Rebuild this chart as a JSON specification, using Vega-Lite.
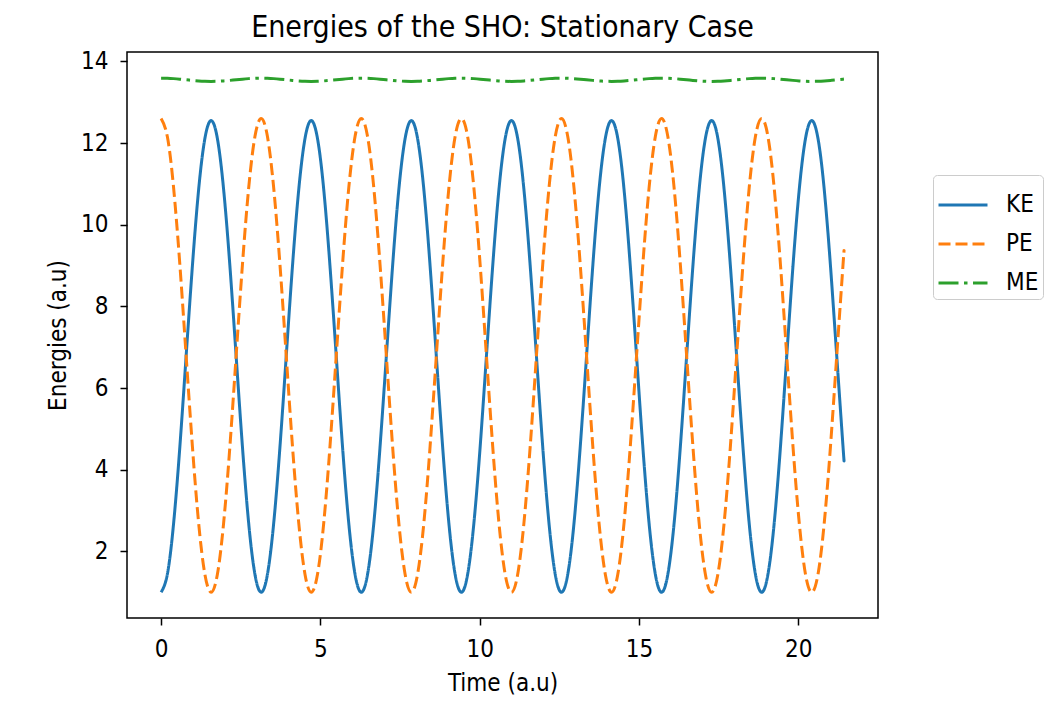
{
"$schema": "https://vega.github.io/schema/vega-lite/v6.json",
"width": 751, "height": 566,
"autosize": {"type": "none"},
"padding": {"left": 127, "top": 52, "right": 181, "bottom": 100},
"background": "white",
"title": {"text": "Energies of the SHO: Stationary Case", "fontSize": 30, "font": "DejaVu Sans Condensed", "fontWeight": "normal", "color": "black", "anchor": "middle", "offset": 6},
"data": {"values": [
{"t":0,"KE":1,"PE":12.6,"ME":13.59},
{"t":0.196,"KE":1.44,"PE":12.159,"ME":13.587},
{"t":0.393,"KE":2.691,"PE":10.901,"ME":13.578},
{"t":0.589,"KE":4.565,"PE":9.02,"ME":13.565},
{"t":0.785,"KE":6.775,"PE":6.8,"ME":13.55},
{"t":0.982,"KE":8.985,"PE":4.58,"ME":13.535},
{"t":1.178,"KE":10.859,"PE":2.699,"ME":13.522},
{"t":1.374,"KE":12.11,"PE":1.441,"ME":13.513},
{"t":1.571,"KE":12.55,"PE":1,"ME":13.51},
{"t":1.767,"KE":12.11,"PE":1.441,"ME":13.513},
{"t":1.963,"KE":10.859,"PE":2.699,"ME":13.522},
{"t":2.16,"KE":8.985,"PE":4.58,"ME":13.535},
{"t":2.356,"KE":6.775,"PE":6.8,"ME":13.55},
{"t":2.553,"KE":4.565,"PE":9.02,"ME":13.565},
{"t":2.749,"KE":2.691,"PE":10.901,"ME":13.578},
{"t":2.945,"KE":1.44,"PE":12.159,"ME":13.587},
{"t":3.142,"KE":1,"PE":12.6,"ME":13.59},
{"t":3.338,"KE":1.44,"PE":12.159,"ME":13.587},
{"t":3.534,"KE":2.691,"PE":10.901,"ME":13.578},
{"t":3.731,"KE":4.565,"PE":9.02,"ME":13.565},
{"t":3.927,"KE":6.775,"PE":6.8,"ME":13.55},
{"t":4.123,"KE":8.985,"PE":4.58,"ME":13.535},
{"t":4.32,"KE":10.859,"PE":2.699,"ME":13.522},
{"t":4.516,"KE":12.11,"PE":1.441,"ME":13.513},
{"t":4.712,"KE":12.55,"PE":1,"ME":13.51},
{"t":4.909,"KE":12.11,"PE":1.441,"ME":13.513},
{"t":5.105,"KE":10.859,"PE":2.699,"ME":13.522},
{"t":5.301,"KE":8.985,"PE":4.58,"ME":13.535},
{"t":5.498,"KE":6.775,"PE":6.8,"ME":13.55},
{"t":5.694,"KE":4.565,"PE":9.02,"ME":13.565},
{"t":5.89,"KE":2.691,"PE":10.901,"ME":13.578},
{"t":6.087,"KE":1.44,"PE":12.159,"ME":13.587},
{"t":6.283,"KE":1,"PE":12.6,"ME":13.59},
{"t":6.48,"KE":1.44,"PE":12.159,"ME":13.587},
{"t":6.676,"KE":2.691,"PE":10.901,"ME":13.578},
{"t":6.872,"KE":4.565,"PE":9.02,"ME":13.565},
{"t":7.069,"KE":6.775,"PE":6.8,"ME":13.55},
{"t":7.265,"KE":8.985,"PE":4.58,"ME":13.535},
{"t":7.461,"KE":10.859,"PE":2.699,"ME":13.522},
{"t":7.658,"KE":12.11,"PE":1.441,"ME":13.513},
{"t":7.854,"KE":12.55,"PE":1,"ME":13.51},
{"t":8.05,"KE":12.11,"PE":1.441,"ME":13.513},
{"t":8.247,"KE":10.859,"PE":2.699,"ME":13.522},
{"t":8.443,"KE":8.985,"PE":4.58,"ME":13.535},
{"t":8.639,"KE":6.775,"PE":6.8,"ME":13.55},
{"t":8.836,"KE":4.565,"PE":9.02,"ME":13.565},
{"t":9.032,"KE":2.691,"PE":10.901,"ME":13.578},
{"t":9.228,"KE":1.44,"PE":12.159,"ME":13.587},
{"t":9.425,"KE":1,"PE":12.6,"ME":13.59},
{"t":9.621,"KE":1.44,"PE":12.159,"ME":13.587},
{"t":9.817,"KE":2.691,"PE":10.901,"ME":13.578},
{"t":10.014,"KE":4.565,"PE":9.02,"ME":13.565},
{"t":10.21,"KE":6.775,"PE":6.8,"ME":13.55},
{"t":10.407,"KE":8.985,"PE":4.58,"ME":13.535},
{"t":10.603,"KE":10.859,"PE":2.699,"ME":13.522},
{"t":10.799,"KE":12.11,"PE":1.441,"ME":13.513},
{"t":10.996,"KE":12.55,"PE":1,"ME":13.51},
{"t":11.192,"KE":12.11,"PE":1.441,"ME":13.513},
{"t":11.388,"KE":10.859,"PE":2.699,"ME":13.522},
{"t":11.585,"KE":8.985,"PE":4.58,"ME":13.535},
{"t":11.781,"KE":6.775,"PE":6.8,"ME":13.55},
{"t":11.977,"KE":4.565,"PE":9.02,"ME":13.565},
{"t":12.174,"KE":2.691,"PE":10.901,"ME":13.578},
{"t":12.37,"KE":1.44,"PE":12.159,"ME":13.587},
{"t":12.566,"KE":1,"PE":12.6,"ME":13.59},
{"t":12.763,"KE":1.44,"PE":12.159,"ME":13.587},
{"t":12.959,"KE":2.691,"PE":10.901,"ME":13.578},
{"t":13.155,"KE":4.565,"PE":9.02,"ME":13.565},
{"t":13.352,"KE":6.775,"PE":6.8,"ME":13.55},
{"t":13.548,"KE":8.985,"PE":4.58,"ME":13.535},
{"t":13.744,"KE":10.859,"PE":2.699,"ME":13.522},
{"t":13.941,"KE":12.11,"PE":1.441,"ME":13.513},
{"t":14.137,"KE":12.55,"PE":1,"ME":13.51},
{"t":14.334,"KE":12.11,"PE":1.441,"ME":13.513},
{"t":14.53,"KE":10.859,"PE":2.699,"ME":13.522},
{"t":14.726,"KE":8.985,"PE":4.58,"ME":13.535},
{"t":14.923,"KE":6.775,"PE":6.8,"ME":13.55},
{"t":15.119,"KE":4.565,"PE":9.02,"ME":13.565},
{"t":15.315,"KE":2.691,"PE":10.901,"ME":13.578},
{"t":15.512,"KE":1.44,"PE":12.159,"ME":13.587},
{"t":15.708,"KE":1,"PE":12.6,"ME":13.59},
{"t":15.904,"KE":1.44,"PE":12.159,"ME":13.587},
{"t":16.101,"KE":2.691,"PE":10.901,"ME":13.578},
{"t":16.297,"KE":4.565,"PE":9.02,"ME":13.565},
{"t":16.493,"KE":6.775,"PE":6.8,"ME":13.55},
{"t":16.69,"KE":8.985,"PE":4.58,"ME":13.535},
{"t":16.886,"KE":10.859,"PE":2.699,"ME":13.522},
{"t":17.082,"KE":12.11,"PE":1.441,"ME":13.513},
{"t":17.279,"KE":12.55,"PE":1,"ME":13.51},
{"t":17.475,"KE":12.11,"PE":1.441,"ME":13.513},
{"t":17.671,"KE":10.859,"PE":2.699,"ME":13.522},
{"t":17.868,"KE":8.985,"PE":4.58,"ME":13.535},
{"t":18.064,"KE":6.775,"PE":6.8,"ME":13.55},
{"t":18.261,"KE":4.565,"PE":9.02,"ME":13.565},
{"t":18.457,"KE":2.691,"PE":10.901,"ME":13.578},
{"t":18.653,"KE":1.44,"PE":12.159,"ME":13.587},
{"t":18.85,"KE":1,"PE":12.6,"ME":13.59},
{"t":19.046,"KE":1.44,"PE":12.159,"ME":13.587},
{"t":19.242,"KE":2.691,"PE":10.901,"ME":13.578},
{"t":19.439,"KE":4.565,"PE":9.02,"ME":13.565},
{"t":19.635,"KE":6.775,"PE":6.8,"ME":13.55},
{"t":19.831,"KE":8.985,"PE":4.58,"ME":13.535},
{"t":20.028,"KE":10.859,"PE":2.699,"ME":13.522},
{"t":20.224,"KE":12.11,"PE":1.441,"ME":13.513},
{"t":20.42,"KE":12.55,"PE":1,"ME":13.51},
{"t":20.617,"KE":12.11,"PE":1.441,"ME":13.513},
{"t":20.813,"KE":10.859,"PE":2.699,"ME":13.522},
{"t":21.009,"KE":8.985,"PE":4.58,"ME":13.535},
{"t":21.206,"KE":6.775,"PE":6.8,"ME":13.55},
{"t":21.402,"KE":4.565,"PE":9.02,"ME":13.565},
{"t":21.43,"KE":4.27,"PE":9.316,"ME":13.567}
]},
"transform": [{"fold": ["KE", "PE", "ME"], "as": ["series", "value"]}],
"mark": {"type": "line", "strokeWidth": 3, "interpolate": "natural"},
"encoding": {
  "x": {"field": "t", "type": "quantitative", "scale": {"domain": [-1.07, 22.5], "nice": false, "zero": false}, "axis": {"values": [0, 5, 10, 15, 20], "title": "Time (a.u)"}},
  "y": {"field": "value", "type": "quantitative", "scale": {"domain": [0.37, 14.23], "nice": false, "zero": false}, "axis": {"values": [2, 4, 6, 8, 10, 12, 14], "title": "Energies (a.u)"}},
  "color": {"field": "series", "type": "nominal", "scale": {"domain": ["KE", "PE", "ME"], "range": ["#1f77b4", "#ff7f0e", "#2ca02c"]}, "legend": {"title": null}},
  "strokeDash": {"field": "series", "type": "nominal", "scale": {"domain": ["KE", "PE", "ME"], "range": [[1, 0], [12, 5], [20, 5.5, 3.5, 5.5]]}, "legend": {"title": null}}
},
"config": {
  "view": {"stroke": "black", "strokeWidth": 1.5},
  "axis": {"domain": false, "grid": false, "tickColor": "black", "tickSize": 7, "tickWidth": 1.5, "labelFont": "DejaVu Sans Condensed", "labelFontSize": 24, "labelColor": "black", "titleFont": "DejaVu Sans Condensed", "titleFontSize": 24, "titleFontWeight": "normal", "titleColor": "black", "labelFlush": false, "labelOverlap": false},
  "axisX": {"labelPadding": 12, "titlePadding": 10},
  "axisY": {"labelPadding": 12, "titlePadding": 10},
  "legend": {"orient": "none", "legendX": 806, "legendY": 123, "symbolType": "stroke", "symbolSize": 2400, "symbolStrokeWidth": 3, "labelFont": "DejaVu Sans Condensed", "labelFontSize": 24, "labelColor": "black", "strokeColor": "#cccccc", "fillColor": "white", "cornerRadius": 4, "padding": 4, "rowPadding": 1, "labelOffset": 17}
}
}
